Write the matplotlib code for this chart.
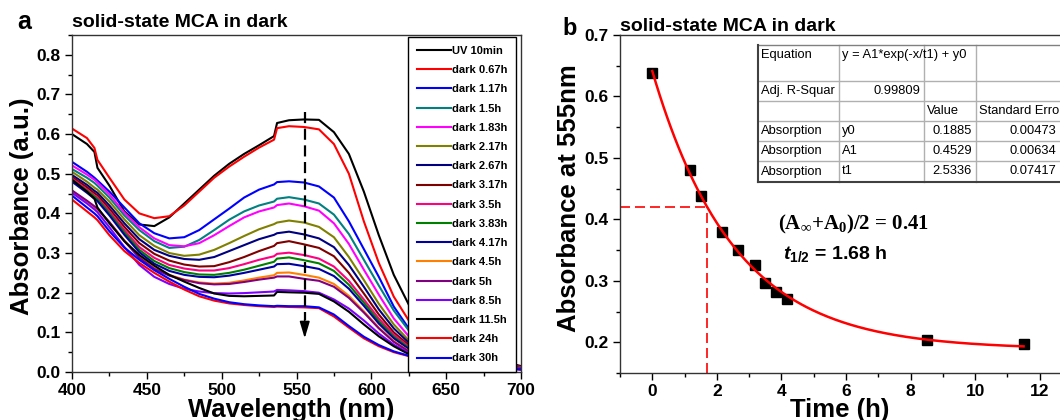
import numpy as np
import matplotlib.pyplot as plt
from matplotlib.ticker import MultipleLocator

plt.rcParams['font.family'] = ['Liberation Sans', 'DejaVu Sans']
plt.rcParams['font.weight'] = 'bold'
plt.rcParams['axes.labelweight'] = 'bold'
plt.rcParams['mathtext.fontset'] = 'custom'
plt.rcParams['mathtext.rm'] = 'Liberation Serif:bold'
plt.rcParams['mathtext.it'] = 'Liberation Sans:italic:bold'
plt.rcParams['mathtext.bf'] = 'Liberation Sans:bold'

# --- Panel a: spectra in dark ---
wl = [400, 410, 415, 417, 425, 435, 445, 455, 465, 475, 485, 495, 505, 515, 525,
      535, 537, 545, 555, 565, 575, 585, 595, 605, 615, 625, 650, 700]

labels = ["UV 10min", "dark 0.67h", "dark 1.17h", "dark 1.5h", "dark 1.83h",
          "dark 2.17h", "dark 2.67h", "dark 3.17h", "dark 3.5h", "dark 3.83h",
          "dark 4.17h", "dark 4.5h", "dark 5h", "dark 8.5h", "dark 11.5h",
          "dark 24h", "dark 30h"]
colors = ["#000000", "#ff0000", "#0000ff", "#008080", "#ff00ff", "#808000",
          "#000080", "#800000", "#ff0080", "#008000", "#0000a0", "#ff8000",
          "#800080", "#8000ff", "#000000", "#ff0000", "#0000ff"]

uv_10min = [0.600, 0.575, 0.555, 0.515, 0.470, 0.405, 0.372, 0.368, 0.390, 0.425, 0.460, 0.495, 0.525, 0.550,
            0.572, 0.595, 0.628, 0.635, 0.637, 0.636, 0.605, 0.550, 0.455, 0.345, 0.245, 0.170, 0.060, 0.015]
dark_067 = [0.614, 0.590, 0.565, 0.535, 0.490, 0.435, 0.400, 0.388, 0.393, 0.420, 0.455, 0.490, 0.518, 0.543,
            0.566, 0.586, 0.615, 0.620, 0.618, 0.612, 0.575, 0.500, 0.380, 0.275, 0.190, 0.130, 0.050, 0.013]
dark_117 = [0.530, 0.505, 0.490, 0.483, 0.455, 0.415, 0.375, 0.350, 0.337, 0.340, 0.358, 0.385, 0.412, 0.440,
            0.460, 0.473, 0.479, 0.481, 0.478, 0.468, 0.440, 0.380, 0.310, 0.240, 0.165, 0.110, 0.045, 0.012]
dark_15 = [0.512, 0.490, 0.477, 0.470, 0.440, 0.395, 0.358, 0.330, 0.313, 0.316, 0.333, 0.358, 0.384, 0.405,
           0.420, 0.430, 0.437, 0.441, 0.435, 0.425, 0.397, 0.348, 0.283, 0.218, 0.155, 0.105, 0.042, 0.011]
dark_183 = [0.521, 0.498, 0.485, 0.478, 0.448, 0.402, 0.365, 0.337, 0.320, 0.317, 0.325, 0.345, 0.368, 0.390,
            0.405, 0.415, 0.421, 0.425, 0.418, 0.407, 0.375, 0.323, 0.258, 0.195, 0.135, 0.090, 0.040, 0.011]
dark_217 = [0.505, 0.480, 0.465, 0.460, 0.430, 0.385, 0.345, 0.318, 0.300, 0.293, 0.296, 0.308, 0.325, 0.343,
            0.360, 0.373, 0.377, 0.382, 0.377, 0.366, 0.340, 0.290, 0.232, 0.172, 0.120, 0.080, 0.037, 0.010]
dark_267 = [0.497, 0.472, 0.457, 0.452, 0.420, 0.375, 0.335, 0.308, 0.293, 0.285, 0.283, 0.290, 0.305, 0.320,
            0.335, 0.346, 0.350, 0.354, 0.347, 0.337, 0.315, 0.270, 0.215, 0.158, 0.110, 0.074, 0.035, 0.010]
dark_317 = [0.492, 0.466, 0.451, 0.446, 0.412, 0.366, 0.325, 0.298, 0.281, 0.271, 0.266, 0.267, 0.277, 0.290,
            0.305, 0.318, 0.325, 0.330, 0.322, 0.313, 0.292, 0.250, 0.198, 0.145, 0.100, 0.068, 0.033, 0.010]
dark_35 = [0.488, 0.460, 0.445, 0.440, 0.405, 0.358, 0.315, 0.288, 0.270, 0.261, 0.256, 0.256, 0.262, 0.272,
           0.283, 0.292, 0.298, 0.301, 0.295, 0.286, 0.266, 0.230, 0.183, 0.135, 0.094, 0.064, 0.031, 0.009]
dark_383 = [0.485, 0.457, 0.442, 0.436, 0.400, 0.352, 0.308, 0.280, 0.262, 0.252, 0.246, 0.245, 0.250, 0.258,
            0.268, 0.278, 0.286, 0.289, 0.282, 0.274, 0.255, 0.220, 0.175, 0.128, 0.089, 0.061, 0.030, 0.009]
dark_417 = [0.480, 0.452, 0.437, 0.431, 0.395, 0.346, 0.302, 0.273, 0.255, 0.245, 0.240, 0.239, 0.243, 0.250,
            0.258, 0.266, 0.272, 0.273, 0.267, 0.260, 0.242, 0.210, 0.167, 0.122, 0.085, 0.058, 0.029, 0.009]
dark_45 = [0.455, 0.430, 0.415, 0.410, 0.378, 0.332, 0.290, 0.262, 0.245, 0.233, 0.226, 0.223, 0.225, 0.231,
           0.238, 0.244, 0.250, 0.251, 0.245, 0.238, 0.222, 0.192, 0.153, 0.112, 0.078, 0.053, 0.027, 0.008]
dark_5 = [0.458, 0.432, 0.418, 0.412, 0.378, 0.330, 0.288, 0.260, 0.243, 0.232, 0.224, 0.221, 0.222, 0.227,
          0.233, 0.238, 0.241, 0.241, 0.235, 0.230, 0.215, 0.187, 0.150, 0.110, 0.076, 0.052, 0.026, 0.008]
dark_85 = [0.452, 0.425, 0.410, 0.403, 0.365, 0.315, 0.270, 0.240, 0.222, 0.210, 0.203, 0.199, 0.198, 0.199,
           0.201, 0.203, 0.207, 0.206, 0.204, 0.200, 0.183, 0.160, 0.130, 0.097, 0.069, 0.048, 0.024, 0.007]
dark_115 = [0.485, 0.455, 0.437, 0.415, 0.375, 0.330, 0.295, 0.268, 0.245, 0.228, 0.212, 0.198, 0.192, 0.191,
            0.192, 0.193, 0.202, 0.201, 0.200, 0.197, 0.178, 0.152, 0.120, 0.090, 0.065, 0.045, 0.023, 0.007]
dark_24 = [0.435, 0.405, 0.390, 0.383, 0.345, 0.305, 0.275, 0.250, 0.228, 0.208, 0.191, 0.180, 0.173, 0.169,
           0.166, 0.164, 0.165, 0.164, 0.163, 0.161, 0.140, 0.112, 0.085, 0.065, 0.050, 0.040, 0.022, 0.006]
dark_30 = [0.445, 0.415, 0.400, 0.393, 0.355, 0.314, 0.283, 0.257, 0.235, 0.215, 0.197, 0.185, 0.176, 0.171,
           0.168, 0.166, 0.167, 0.166, 0.166, 0.163, 0.145, 0.116, 0.089, 0.068, 0.052, 0.041, 0.022, 0.006]

spectra = [uv_10min, dark_067, dark_117, dark_15, dark_183, dark_217, dark_267, dark_317,
           dark_35, dark_383, dark_417, dark_45, dark_5, dark_85, dark_115, dark_24, dark_30]

# --- Panel b: absorbance at 555 nm vs time ---
time_h = [0, 1.17, 1.5, 2.17, 2.67, 3.17, 3.5, 3.83, 4.17, 8.5, 11.5]
abs_555 = [0.638, 0.480, 0.438, 0.380, 0.350, 0.325, 0.297, 0.282, 0.270, 0.204, 0.198]
y0, A1, t1 = 0.1885, 0.4529, 2.5336
half_abs, half_time = 0.42, 1.68

table_rows = [
    ["Equation", "y = A1*exp(-x/t1) + y0", "", ""],
    ["Adj. R-Squar", "0.99809", "", ""],
    ["", "", "Value", "Standard Erro"],
    ["Absorption", "y0", "0.1885", "0.00473"],
    ["Absorption", "A1", "0.4529", "0.00634"],
    ["Absorption", "t1", "2.5336", "0.07417"],
]

fig = plt.figure(figsize=(10.6, 4.2), dpi=100)
W, H = 1060, 420


def style_axes(ax):
    for s in ax.spines.values():
        s.set_linewidth(1.0)
        s.set_color('#333333')
    ax.tick_params(which='major', direction='out', length=5, width=1, labelsize=12.5, pad=3)
    ax.tick_params(which='minor', direction='out', length=3, width=1)
    for lab in ax.get_xticklabels() + ax.get_yticklabels():
        lab.set_fontweight('bold')


# panel a
ax1 = fig.add_axes([72 / W, 48 / H, 449 / W, 337 / H])
for y, c, lab in zip(spectra, colors, labels):
    ax1.plot(wl, y, color=c, lw=1.5, label=lab, solid_joinstyle='round')
ax1.set_xlim(400, 700)
ax1.set_ylim(0, 0.85)
ax1.xaxis.set_major_locator(MultipleLocator(50))
ax1.xaxis.set_minor_locator(MultipleLocator(25))
ax1.yaxis.set_major_locator(MultipleLocator(0.1))
ax1.yaxis.set_minor_locator(MultipleLocator(0.05))
ax1.yaxis.set_major_formatter(plt.FormatStrFormatter('%.1f'))
style_axes(ax1)

# dashed arrow at 555 nm
ax1.plot([555.5, 555.5], [0.655, 0.13], color='black', lw=1.6, ls=(0, (5, 2.5)))
ax1.annotate("", xy=(555.5, 0.085), xytext=(555.5, 0.132),
             arrowprops=dict(arrowstyle="-|>,head_length=1.0,head_width=0.3",
                             color='black', lw=1.2, shrinkA=0, shrinkB=0))

leg = ax1.legend(loc='upper left', bbox_to_anchor=(0.748, 0.994), fontsize=8,
                 frameon=True, fancybox=False, framealpha=1, edgecolor='black',
                 handlelength=3.1, handletextpad=0.05, labelspacing=0.83,
                 borderpad=0.8, borderaxespad=0)
leg.get_frame().set_linewidth(1.0)
for t in leg.get_texts():
    t.set_fontweight('bold')

# panel b
ax2 = fig.add_axes([620 / W, 47 / H, 452 / W, 338 / H])
xfit = np.linspace(0, 11.5, 200)
ax2.plot(xfit, A1 * np.exp(-xfit / t1) + y0, color='#ff0000', lw=1.8, zorder=3)
ax2.plot(time_h, abs_555, 's', color='black', ms=7.5, zorder=2)
ax2.plot([-1, half_time], [half_abs, half_abs], color='#ff0000', lw=1.2, ls=(0, (6, 3)))
ax2.plot([half_time, half_time], [0.15, half_abs], color='#ff0000', lw=1.2, ls=(0, (6, 3)))
ax2.set_xlim(-1, 13)
ax2.set_ylim(0.15, 0.7)
ax2.xaxis.set_major_locator(MultipleLocator(2))
ax2.xaxis.set_minor_locator(MultipleLocator(1))
ax2.yaxis.set_major_locator(MultipleLocator(0.1))
ax2.yaxis.set_minor_locator(MultipleLocator(0.05))
ax2.yaxis.set_major_formatter(plt.FormatStrFormatter('%.1f'))
style_axes(ax2)

ax2.text(3.88, 0.391, r"(A$_{\mathrm{\infty}}$+A$_{\mathrm{0}}$)/2 = 0.41",
         family='Liberation Serif', fontsize=15, fontweight='bold', va='center', ha='left')
ax2.text(4.05, 0.344, r"$\mathit{t}_{\mathbf{1/2}}$ = 1.68 h",
         fontsize=14, fontweight='bold', va='center', ha='left')

# overlay in pixel coordinates for labels and the fit table
ov = fig.add_axes([0, 0, 1, 1], zorder=10)
ov.set_xlim(0, W)
ov.set_ylim(H, 0)
ov.axis('off')
ov.patch.set_alpha(0)

ov.text(17, 29, "a", fontsize=18, fontweight='bold', va='baseline')
ov.text(562, 35, "b", fontsize=17, fontweight='bold', va='baseline')
ov.text(72, 27, "solid-state MCA in dark", fontsize=14, fontweight='bold', va='baseline')
ov.text(620, 31, "solid-state MCA in dark", fontsize=14, fontweight='bold', va='baseline')
ov.text(291, 417, "Wavelength (nm)", fontsize=18.5, fontweight='bold', ha='center', va='baseline')
ov.text(840, 417, "Time (h)", fontsize=18.5, fontweight='bold', ha='center', va='baseline')
ov.text(22, 206, "Absorbance (a.u.)", fontsize=18.5, fontweight='bold', rotation=90,
        ha='center', va='center')
ov.text(569, 198, "Absorbance at 555nm", fontsize=18.5, fontweight='bold', rotation=90,
        ha='center', va='center')

# table
col_x = [758, 839, 924, 976, 1060]
row_y = [45, 81, 101, 121, 141, 161, 182]
ov.fill_between([col_x[0], W], row_y[0], row_y[-1], color='white', zorder=1)
for x in col_x[1:-1]:
    ov.plot([x, x], [row_y[0], row_y[-1]], color='#b0b0b0', lw=1, zorder=2)
for y in row_y[1:-1]:
    ov.plot([col_x[0], W], [y, y], color='#b0b0b0', lw=1, zorder=2)
ov.plot([col_x[0], W], [row_y[0], row_y[0]], color='#808080', lw=1, zorder=3)
ov.plot([col_x[0], col_x[0]], [row_y[0], row_y[-1]], color='#404040', lw=1.5, zorder=3)
ov.plot([col_x[0], W], [row_y[-1], row_y[-1]], color='#404040', lw=1.5, zorder=3)

for i, row in enumerate(table_rows):
    yc = row_y[i] + 10 if i == 0 else (row_y[i] + row_y[i + 1]) / 2
    for j, txt in enumerate(row):
        if not txt:
            continue
        if txt[0].isdigit():
            ov.text(col_x[j + 1] - 4, yc, txt, fontsize=9.3, fontweight='normal',
                    ha='right', va='center', zorder=4)
        else:
            ov.text(col_x[j] + 3, yc, txt, fontsize=9.3, fontweight='normal',
                    ha='left', va='center', zorder=4)

fig.savefig("out.png", dpi=100)
